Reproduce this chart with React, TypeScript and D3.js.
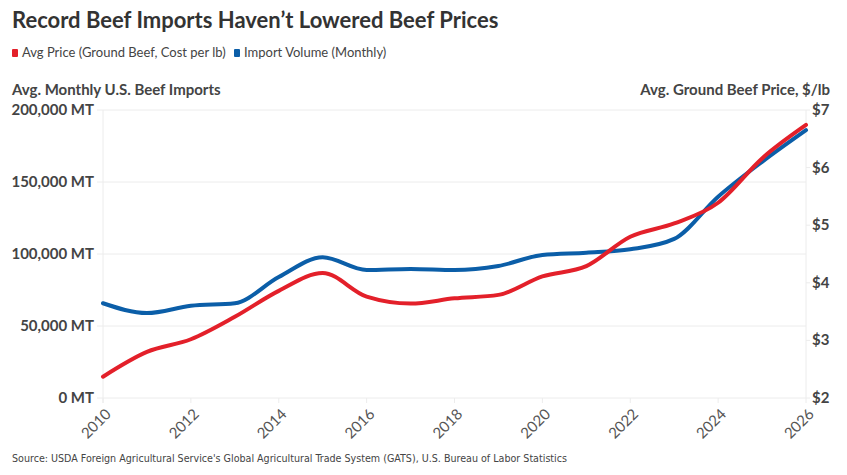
import React from 'react';
import * as d3 from 'd3';

const years = [2010, 2011, 2012, 2013, 2014, 2015, 2016, 2017, 2018, 2019, 2020, 2021, 2022, 2023, 2024, 2025, 2026];
// avg monthly imports, metric tons
const importVolume = [65800, 59000, 64000, 65800, 84000, 97700, 88900, 89600, 88900, 91700, 99300, 100900, 103300, 110500, 139800, 164000, 186000];
// ground beef, $ per lb
const avgPrice = [2.37, 2.8, 3.02, 3.41, 3.86, 4.17, 3.76, 3.64, 3.73, 3.79, 4.11, 4.29, 4.8, 5.03, 5.39, 6.16, 6.74];

const leftTicks = [0, 50000, 100000, 150000, 200000];
const rightTicks = [2, 3, 4, 5, 6, 7];
const xTicks = [2010, 2012, 2014, 2016, 2018, 2020, 2022, 2024, 2026];

const RED = '#e3202a';
const BLUE = '#0b5ea8';
const FONT = 'Lato, "Open Sans", sans-serif';

export default function App() {
  const W = 847, H = 475;
  const m = { left: 103, right: 806, top: 110, bottom: 398 };

  const x = d3.scaleLinear().domain([2010, 2026]).range([m.left, m.right]);
  const yL = d3.scaleLinear().domain([0, 200000]).range([m.bottom, m.top]);
  const yR = d3.scaleLinear().domain([2, 7]).range([m.bottom, m.top]);

  const importLine = d3.line<number>()
    .x((_, i) => x(years[i]))
    .y(d => yL(d))
    .curve(d3.curveMonotoneX);
  const priceLine = d3.line<number>()
    .x((_, i) => x(years[i]))
    .y(d => yR(d))
    .curve(d3.curveMonotoneX);

  return (
    <svg width={W} height={H} style={{ position: 'absolute', left: 0, top: 0, background: '#fff' }} fontFamily={FONT}>
      <text x={12} y={28} fontSize={22} fontWeight={700} fill="#333">Record Beef Imports Haven’t Lowered Beef Prices</text>

      {/* legend */}
      <rect x={12} y={49} width={6} height={8} rx={1} fill={RED} />
      <text x={22} y={57} fontSize={13} fill="#444">Avg Price (Ground Beef, Cost per lb)</text>
      <rect x={234} y={49} width={6} height={8} rx={1} fill={BLUE} />
      <text x={244} y={57} fontSize={13} fill="#444">Import Volume (Monthly)</text>

      {/* axis titles */}
      <text x={12} y={95} fontSize={15} fontWeight={700} fill="#444">Avg. Monthly U.S. Beef Imports</text>
      <text x={830} y={95} fontSize={15} fontWeight={700} fill="#444" textAnchor="end">Avg. Ground Beef Price, $/lb</text>

      {/* grid + left ticks */}
      {leftTicks.map(t => (
        <g key={t}>
          <line x1={97} x2={m.right} y1={yL(t)} y2={yL(t)} stroke="#ececec" strokeWidth={1} />
          <text x={94} y={yL(t) + 5} fontSize={15} fontWeight={700} fill="#444" textAnchor="end">
            {d3.format(',')(t)} MT
          </text>
        </g>
      ))}
      <line x1={m.left} x2={m.left} y1={m.top} y2={m.bottom + 5} stroke="#ececec" />
      <line x1={m.right} x2={m.right} y1={m.top} y2={m.bottom} stroke="#ececec" />

      {/* right ticks */}
      {rightTicks.map(t => (
        <g key={t}>
          <line x1={m.right} x2={m.right + 4} y1={yR(t)} y2={yR(t)} stroke="#ececec" />
          <text x={812} y={yR(t) + 5} fontSize={15} fontWeight={700} fill="#444">${t}</text>
        </g>
      ))}

      {/* x ticks */}
      {xTicks.map(t => (
        <g key={t}>
          <line x1={x(t)} x2={x(t)} y1={m.bottom} y2={m.bottom + 5} stroke="#ececec" />
          <text
            transform={`translate(${x(t) + 9},${m.bottom + 17}) rotate(-45)`}
            fontSize={15}
            fill="#555"
            textAnchor="end"
          >{t}</text>
        </g>
      ))}

      {/* lines */}
      <path d={importLine(importVolume) || ''} fill="none" stroke={BLUE} strokeWidth={4} strokeLinecap="round" />
      <path d={priceLine(avgPrice) || ''} fill="none" stroke={RED} strokeWidth={4} strokeLinecap="round" />

      <text x={12} y={462} fontSize={11} fill="#444" textLength={555} lengthAdjust="spacingAndGlyphs"
        fontFamily='"DejaVu Sans Condensed", "Roboto Condensed", sans-serif'>
        Source: USDA Foreign Agricultural Service's Global Agricultural Trade System (GATS), U.S. Bureau of Labor Statistics
      </text>
    </svg>
  );
}
